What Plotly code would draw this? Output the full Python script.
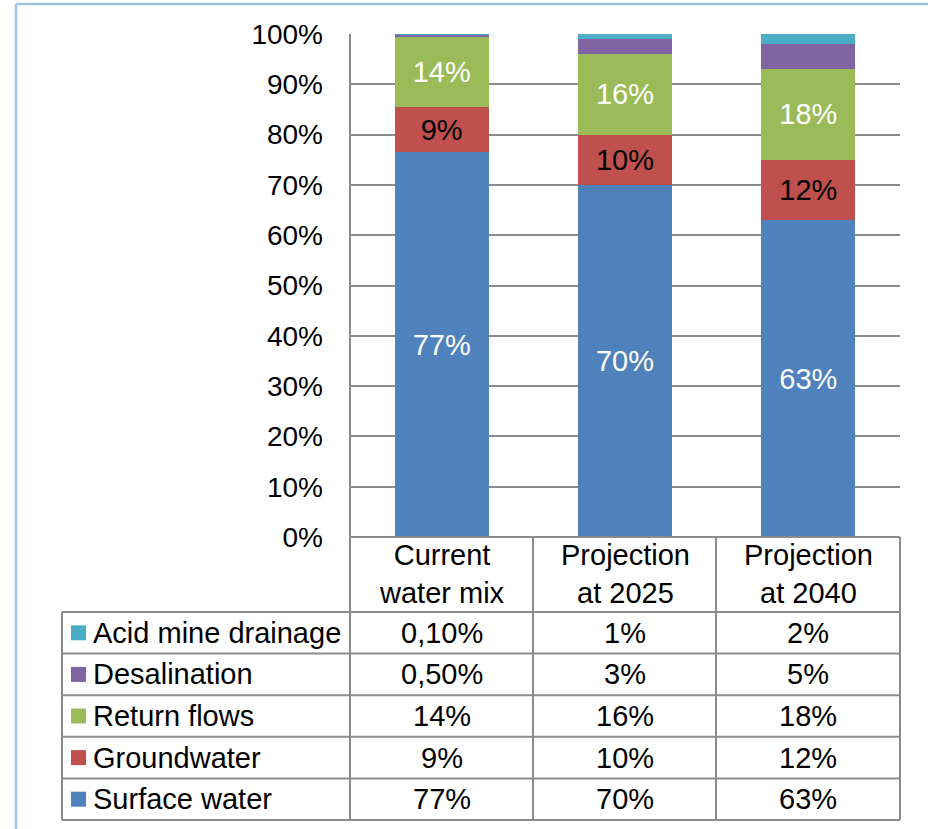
import plotly.graph_objects as go

# Water supply mix: current and projected shares by source
categories = ["Current water mix", "Projection at 2025", "Projection at 2040"]
header_labels = ["Current<br>water mix", "Projection<br>at 2025", "Projection<br>at 2040"]

surface_water = [77, 70, 63]
groundwater = [9, 10, 12]
return_flows = [14, 16, 18]
desalination = [0.5, 3, 5]
acid_mine_drainage = [0.1, 1, 2]

surface_txt = ["77%", "70%", "63%"]
ground_txt = ["9%", "10%", "12%"]
return_txt = ["14%", "16%", "18%"]
desal_txt = ["0,50%", "3%", "5%"]
acid_txt = ["0,10%", "1%", "2%"]

y_ticks = [0, 10, 20, 30, 40, 50, 60, 70, 80, 90, 100]

# series drawn bottom-to-top; table rows listed top-to-bottom
series = [
    ("Surface water", surface_water, surface_txt, "#4F81BD", "white", True),
    ("Groundwater", groundwater, ground_txt, "#C0504D", "black", True),
    ("Return flows", return_flows, return_txt, "#9BBB59", "white", True),
    ("Desalination", desalination, desal_txt, "#8064A2", "white", False),
    ("Acid mine drainage", acid_mine_drainage, acid_txt, "#4BACC6", "white", False),
]

FONT = "Liberation Sans, Arial, sans-serif"
FS = 29        # labels and table text
FS_TICK = 28   # value axis tick labels
W, H = 928, 829
L, R, T, B = 350, 28, 34, 292          # plot area: x 350..900, y 34..537
PW, PH = W - L - R, H - T - B


def px_x(px):
    return (px - L) / PW


def px_y(py):
    return (T + PH - py) / PH


fig = go.Figure()
for name, vals, txt, color, tcolor, labelled in series:
    fig.add_trace(go.Bar(
        x=categories, y=vals, name=name,
        marker=dict(color=color, line=dict(width=0)),
        text=txt if labelled else None,
        textposition="inside" if labelled else "none",
        insidetextanchor="middle",
        textangle=0,
        textfont=dict(color=tcolor, size=FS, family=FONT),
        hoverinfo="skip",
    ))

shapes = []
annotations = []
grid = "#8C8C8C"

# outer chart frame (top and left edges)
frame = "#9DC3E6"
shapes.append(dict(type="line", xref="paper", yref="paper",
                   x0=px_x(16), x1=px_x(929), y0=px_y(4), y1=px_y(4),
                   line=dict(color=frame, width=2.5)))
shapes.append(dict(type="line", xref="paper", yref="paper",
                   x0=px_x(16), x1=px_x(16), y0=px_y(4), y1=px_y(830),
                   line=dict(color=frame, width=2.5)))

# data table grid
row_tops = [612, 653.6, 695.2, 736.8, 778.4, 820]
col_x = [350, 533, 716, 900]
table_left = 62
shapes.append(dict(type="line", xref="paper", yref="paper",
                   x0=px_x(350), x1=px_x(900), y0=px_y(537), y1=px_y(537),
                   line=dict(color=grid, width=2)))
for ry in row_tops:
    shapes.append(dict(type="line", xref="paper", yref="paper",
                       x0=px_x(table_left), x1=px_x(900), y0=px_y(ry), y1=px_y(ry),
                       line=dict(color=grid, width=2)))
shapes.append(dict(type="line", xref="paper", yref="paper",
                   x0=px_x(350), x1=px_x(350), y0=px_y(34), y1=px_y(820),
                   line=dict(color=grid, width=2)))
for cx in col_x[1:]:
    shapes.append(dict(type="line", xref="paper", yref="paper",
                       x0=px_x(cx), x1=px_x(cx), y0=px_y(537), y1=px_y(820),
                       line=dict(color=grid, width=2)))
shapes.append(dict(type="line", xref="paper", yref="paper",
                   x0=px_x(table_left), x1=px_x(table_left), y0=px_y(612), y1=px_y(820),
                   line=dict(color=grid, width=2)))

# header row with category names
for cat, lab in zip(categories, header_labels):
    annotations.append(dict(x=cat, xref="x", y=px_y(574), yref="paper",
                            text=lab, showarrow=False, xanchor="center", yanchor="middle",
                            font=dict(size=FS, family=FONT, color="black")))

# table body: top row is the last series
for i, (name, vals, txt, color, tcolor, labelled) in enumerate(reversed(series)):
    cy = (row_tops[i] + row_tops[i + 1]) / 2
    shapes.append(dict(type="rect", xref="paper", yref="paper",
                       x0=px_x(71), x1=px_x(86), y0=px_y(cy - 7.5), y1=px_y(cy + 7.5),
                       fillcolor=color, line=dict(width=0)))
    annotations.append(dict(x=px_x(91), xref="paper", y=px_y(cy), yref="paper",
                            text=name, showarrow=False, xanchor="left", yanchor="middle",
                            font=dict(size=FS, family=FONT, color="black")))
    for cat, t in zip(categories, txt):
        annotations.append(dict(x=cat, xref="x", y=px_y(cy), yref="paper",
                                text=t, showarrow=False, xanchor="center", yanchor="middle",
                                font=dict(size=FS, family=FONT, color="black")))

fig.update_layout(
    width=W, height=H,
    margin=dict(l=L, r=R, t=T, b=B),
    barmode="stack",
    barnorm="percent",
    bargap=0.487,
    showlegend=False,
    plot_bgcolor="white",
    paper_bgcolor="white",
    uniformtext=dict(minsize=FS, mode="show"),
    xaxis=dict(showticklabels=False, showgrid=False, zeroline=False,
               showline=False, ticks="", fixedrange=True),
    yaxis=dict(range=[0, 100], tickvals=y_ticks,
               ticktext=[f"{v}%" for v in y_ticks],
               showgrid=True, gridcolor=grid, gridwidth=1.5,
               zeroline=False, showline=False, ticks="",
               ticklabelstandoff=26,
               tickfont=dict(size=FS_TICK, family=FONT, color="black")),
    shapes=shapes,
    annotations=annotations,
)

fig.write_html("out.html")
